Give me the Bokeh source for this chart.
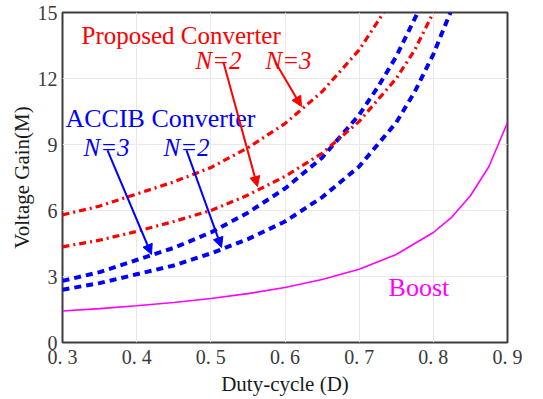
from bokeh.plotting import figure
from bokeh.models import Range1d, FixedTicker, Label, Arrow, NormalHead
from bokeh.embed import file_html
from bokeh.resources import INLINE

# ---- data ----
d_prop3 = [0.30, 0.35, 0.40, 0.45, 0.50, 0.55, 0.60, 0.65, 0.70, 0.733]
m_prop3 = [5.8, 6.2, 6.75, 7.3, 7.95, 8.85, 9.95, 11.4, 13.3, 15.0]

d_prop2 = [0.30, 0.35, 0.40, 0.45, 0.50, 0.55, 0.60, 0.65, 0.70, 0.75, 0.775, 0.80]
m_prop2 = [4.35, 4.65, 5.05, 5.5, 6.0, 6.7, 7.55, 8.6, 10.05, 12.0, 13.3, 15.0]

d_accib3 = [0.30, 0.35, 0.40, 0.45, 0.50, 0.55, 0.60, 0.65, 0.70, 0.725, 0.75, 0.779]
m_accib3 = [2.8, 3.2, 3.75, 4.3, 5.0, 5.9, 7.0, 8.4, 10.35, 11.6, 13.0, 15.0]

d_accib2 = [0.30, 0.35, 0.40, 0.45, 0.50, 0.55, 0.60, 0.65, 0.70, 0.75, 0.775, 0.80, 0.823]
m_accib2 = [2.4, 2.7, 3.1, 3.5, 4.05, 4.7, 5.5, 6.6, 8.0, 10.0, 11.4, 13.1, 15.0]

d_boost = [0.30, 0.35, 0.40, 0.45, 0.50, 0.55, 0.60, 0.65, 0.70, 0.75, 0.80, 0.825, 0.85, 0.875, 0.90]
m_boost = [1.43, 1.54, 1.67, 1.82, 2.0, 2.22, 2.5, 2.86, 3.33, 4.0, 5.0, 5.7, 6.67, 8.0, 10.0]

x_ticks = [0.3, 0.4, 0.5, 0.6, 0.7, 0.8, 0.9]
x_tick_labels = ["0. 3", "0. 4", "0. 5", "0. 6", "0. 7", "0. 8", "0. 9"]
y_ticks = [0, 3, 6, 9, 12, 15]

# ---- annotation placement (data coords) ----
txt_prop = (0.3256, 13.95)
txt_prop_n2 = (0.4793, 12.82)
txt_prop_n3 = (0.5737, 12.82)
txt_accib = (0.3040, 10.18)
txt_accib_n3 = (0.3283, 8.86)
txt_accib_n2 = (0.4362, 8.86)
txt_boost = (0.7396, 2.5)
arr_prop_n2 = (0.5171, 12.73, 0.5629, 7.09)
arr_prop_n3 = (0.5872, 12.73, 0.6222, 10.73)
arr_accib_n3 = (0.3607, 8.73, 0.4200, 4.0)
arr_accib_n2 = (0.4672, 8.73, 0.5144, 4.32)

SERIF = "Liberation Serif"
RED = "#ff0000"
BLUE = "#0000ff"
MAG = "#ff00ff"

p = figure(frame_width=445, frame_height=330,
           min_border_left=62, min_border_right=36, min_border_top=12, min_border_bottom=57,
           x_range=Range1d(0.3, 0.9), y_range=Range1d(0, 15),
           output_backend="svg", toolbar_location=None)
p.background_fill_color = "white"
p.border_fill_color = "white"
p.outline_line_color = "#3c3c3c"
p.outline_line_width = 2

for ax in (p.xaxis[0], p.yaxis[0]):
    ax.axis_line_color = None
    ax.major_tick_line_color = None
    ax.minor_tick_line_color = None
    ax.major_tick_out = 0
    ax.major_tick_in = 0
    ax.minor_tick_out = 0
    ax.minor_tick_in = 0
    ax.major_label_text_font = SERIF
    ax.major_label_text_font_size = "20px"
    ax.major_label_text_color = "#3a3a3a"
    ax.axis_label_text_font = SERIF
    ax.axis_label_text_font_size = "21px"
    ax.axis_label_text_font_style = "normal"
    ax.axis_label_text_color = "#1a1a1a"

p.xaxis.axis_label = "Duty-cycle (D)"
p.yaxis.axis_label = "Voltage Gain(M)"
p.xaxis.major_label_standoff = 3
p.yaxis.major_label_standoff = 5
p.xaxis.axis_label_standoff = 1
p.yaxis.axis_label_standoff = 1

p.xaxis.ticker = FixedTicker(ticks=x_ticks)
p.xaxis.major_label_overrides = {t: l for t, l in zip(x_ticks, x_tick_labels)}
p.yaxis.ticker = FixedTicker(ticks=y_ticks)

p.xgrid.ticker = FixedTicker(ticks=x_ticks)
p.ygrid.ticker = FixedTicker(ticks=y_ticks)
p.grid.grid_line_color = "#e9e9e9"
p.grid.grid_line_width = 1

# curves
p.line(d_boost, m_boost, line_color=MAG, line_width=1.6)
p.line(d_accib2, m_accib2, line_color=BLUE, line_width=4, line_dash="7 5")
p.line(d_accib3, m_accib3, line_color=BLUE, line_width=4, line_dash="7 5")
p.line(d_prop2, m_prop2, line_color=RED, line_width=3.2, line_dash="7 4 2 4")
p.line(d_prop3, m_prop3, line_color=RED, line_width=3.2, line_dash="7 4 2 4")

def add_text(pos, text, color, italic=False, size="25px"):
    p.add_layout(Label(x=pos[0], y=pos[1], text=text, text_color=color,
                       text_font=SERIF, text_font_size=size,
                       text_font_style="italic" if italic else "normal",
                       text_baseline="alphabetic", text_align="left"))

add_text(txt_prop, "Proposed Converter", RED)
add_text(txt_prop_n2, "N=2", RED, italic=True)
add_text(txt_prop_n3, "N=3", RED, italic=True)
add_text(txt_accib, "ACCIB Converter", BLUE, size="26px")
add_text(txt_accib_n3, "N=3", BLUE, italic=True)
add_text(txt_accib_n2, "N=2", BLUE, italic=True)
add_text(txt_boost, "Boost", MAG, size="26px")

def add_arrow(a, color):
    p.add_layout(Arrow(x_start=a[0], y_start=a[1], x_end=a[2], y_end=a[3],
                       line_color=color, line_width=2,
                       end=NormalHead(size=10, fill_color=color, line_color=color)))

add_arrow(arr_prop_n2, RED)
add_arrow(arr_prop_n3, RED)
add_arrow(arr_accib_n3, BLUE)
add_arrow(arr_accib_n2, BLUE)

open("out.html", "w").write(file_html(p, INLINE))
